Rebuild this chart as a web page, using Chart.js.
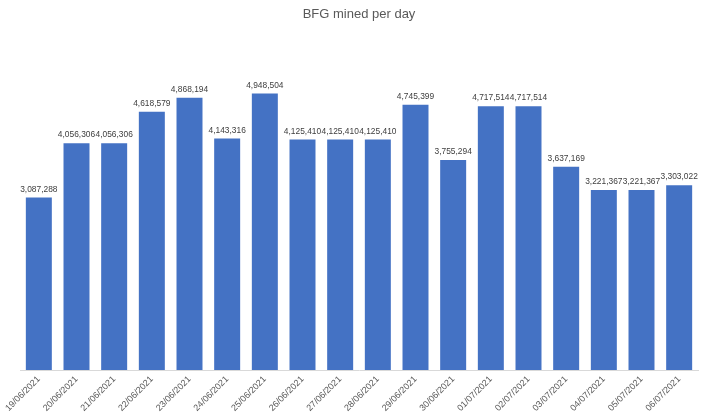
<!DOCTYPE html>
<html>
<head>
<meta charset="utf-8">
<script src="https://cdn.jsdelivr.net/npm/chart.js@4"></script>
<style>
  html, body { margin: 0; padding: 0; background: #fff; }
  #wrap { width: 705px; height: 419px; }
</style>
</head>
<body>
<div id="wrap"><canvas id="bfgChart" width="705" height="419"></canvas></div>
<script>
  // Days and BFG mined on each day
  const days = [
    "19/06/2021", "20/06/2021", "21/06/2021", "22/06/2021", "23/06/2021",
    "24/06/2021", "25/06/2021", "26/06/2021", "27/06/2021", "28/06/2021",
    "29/06/2021", "30/06/2021", "01/07/2021", "02/07/2021", "03/07/2021",
    "04/07/2021", "05/07/2021", "06/07/2021"
  ];
  const mined = [
    3087288, 4056306, 4056306, 4618579, 4868194,
    4143316, 4948504, 4125410, 4125410, 4125410,
    4745399, 3755294, 4717514, 4717514, 3637169,
    3221367, 3221367, 3303022
  ];

  const labelFont = "Liberation Sans, Arial, sans-serif";

  // Draw the value above each bar
  const valueLabels = {
    id: "valueLabels",
    afterDatasetsDraw(chart) {
      const ctx = chart.ctx;
      const meta = chart.getDatasetMeta(0);
      ctx.save();
      ctx.font = "8.4px " + labelFont;
      ctx.fillStyle = "#404040";
      ctx.textAlign = "center";
      ctx.textBaseline = "bottom";
      meta.data.forEach((bar, i) => {
        ctx.fillText(mined[i].toLocaleString("en-US"), bar.x, bar.y - 4);
      });
      ctx.restore();
    }
  };

  new Chart(document.getElementById("bfgChart"), {
    type: "bar",
    data: {
      labels: days,
      datasets: [
        {
          label: "BFG mined",
          data: mined,
          backgroundColor: "#4472C4",
          borderWidth: 0,
          barPercentage: 0.69,
          categoryPercentage: 1.0
        }
      ]
    },
    options: {
      responsive: false,
      animation: false,
      layout: {
        padding: { left: 20, right: 7, top: 0, bottom: 0 }
      },
      plugins: {
        legend: { display: false },
        tooltip: { enabled: false },
        title: {
          display: true,
          text: "BFG mined per day",
          color: "#595959",
          font: { family: labelFont, size: 13, weight: "normal" },
          padding: { top: 7, bottom: 12 }
        }
      },
      scales: {
        y: {
          display: false,
          min: 0,
          max: 6000000
        },
        x: {
          grid: { display: false, drawTicks: false },
          border: { display: true, color: "#d9d9d9", width: 1 },
          ticks: {
            color: "#595959",
            font: { family: labelFont, size: 9 },
            minRotation: 45,
            maxRotation: 45,
            padding: 4,
            autoSkip: false
          },
          afterFit(scale) {
            scale.height = 49;
          }
        }
      }
    },
    plugins: [valueLabels]
  });
</script>
</body>
</html>
